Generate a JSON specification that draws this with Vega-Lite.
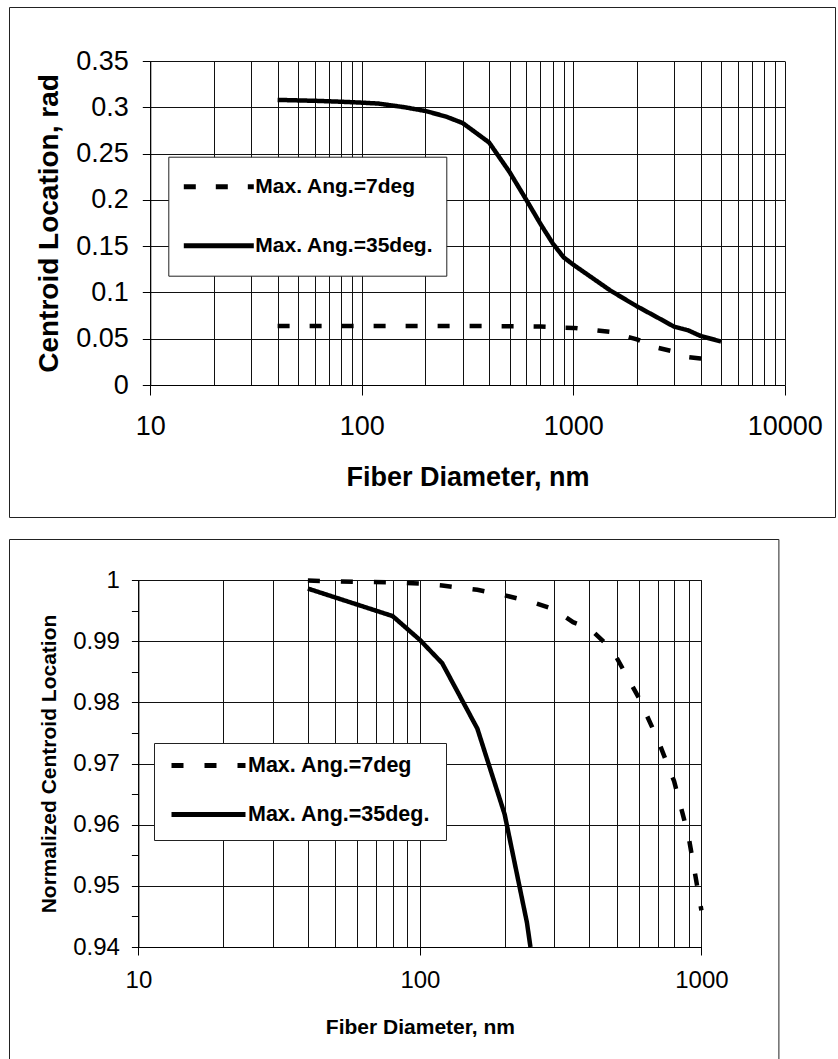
{
  "$schema": "https://vega.github.io/schema/vega-lite/v6.json",
  "padding": {"left": 8, "top": 6, "right": 0, "bottom": 0},
  "autosize": {"type": "pad"},
  "background": "white",
  "spacing": 20,
  "config": {
    "view": {"stroke": "#222", "strokeWidth": 1, "fill": "white"},
    "axis": {"labelFont": "Liberation Sans", "titleFont": "Liberation Sans", "labelColor": "#000", "titleColor": "#000", "domainColor": "#000", "tickColor": "#000", "gridColor": "#111", "gridOpacity": 1, "gridWidth": 1, "labelFlush": false, "labelOverlap": false},
    "legend": {"labelFont": "Liberation Sans", "labelColor": "#000"}
  },
  "datasets": {
    "top": [
      {"series": "Max. Ang.=7deg", "d": 40, "c": 0.0637},
      {"series": "Max. Ang.=7deg", "d": 60, "c": 0.0637},
      {"series": "Max. Ang.=7deg", "d": 80, "c": 0.0637},
      {"series": "Max. Ang.=7deg", "d": 100, "c": 0.0637},
      {"series": "Max. Ang.=7deg", "d": 120, "c": 0.0637},
      {"series": "Max. Ang.=7deg", "d": 160, "c": 0.0637},
      {"series": "Max. Ang.=7deg", "d": 200, "c": 0.0637},
      {"series": "Max. Ang.=7deg", "d": 250, "c": 0.0637},
      {"series": "Max. Ang.=7deg", "d": 300, "c": 0.0637},
      {"series": "Max. Ang.=7deg", "d": 400, "c": 0.0636},
      {"series": "Max. Ang.=7deg", "d": 500, "c": 0.0635},
      {"series": "Max. Ang.=7deg", "d": 600, "c": 0.0634},
      {"series": "Max. Ang.=7deg", "d": 700, "c": 0.0632},
      {"series": "Max. Ang.=7deg", "d": 800, "c": 0.0626},
      {"series": "Max. Ang.=7deg", "d": 900, "c": 0.0620},
      {"series": "Max. Ang.=7deg", "d": 1000, "c": 0.0617},
      {"series": "Max. Ang.=7deg", "d": 1500, "c": 0.0573},
      {"series": "Max. Ang.=7deg", "d": 2000, "c": 0.0493},
      {"series": "Max. Ang.=7deg", "d": 2500, "c": 0.0403},
      {"series": "Max. Ang.=7deg", "d": 3000, "c": 0.0360},
      {"series": "Max. Ang.=7deg", "d": 3500, "c": 0.0302},
      {"series": "Max. Ang.=7deg", "d": 4000, "c": 0.0287},
      {"series": "Max. Ang.=7deg", "d": 5000, "c": 0.0260},
      {"series": "Max. Ang.=35deg.", "d": 40, "c": 0.308},
      {"series": "Max. Ang.=35deg.", "d": 60, "c": 0.307},
      {"series": "Max. Ang.=35deg.", "d": 80, "c": 0.306},
      {"series": "Max. Ang.=35deg.", "d": 100, "c": 0.305},
      {"series": "Max. Ang.=35deg.", "d": 120, "c": 0.304},
      {"series": "Max. Ang.=35deg.", "d": 160, "c": 0.300},
      {"series": "Max. Ang.=35deg.", "d": 200, "c": 0.296},
      {"series": "Max. Ang.=35deg.", "d": 250, "c": 0.290},
      {"series": "Max. Ang.=35deg.", "d": 300, "c": 0.283},
      {"series": "Max. Ang.=35deg.", "d": 400, "c": 0.262},
      {"series": "Max. Ang.=35deg.", "d": 500, "c": 0.230},
      {"series": "Max. Ang.=35deg.", "d": 600, "c": 0.200},
      {"series": "Max. Ang.=35deg.", "d": 700, "c": 0.174},
      {"series": "Max. Ang.=35deg.", "d": 800, "c": 0.153},
      {"series": "Max. Ang.=35deg.", "d": 900, "c": 0.138},
      {"series": "Max. Ang.=35deg.", "d": 1000, "c": 0.130},
      {"series": "Max. Ang.=35deg.", "d": 1500, "c": 0.102},
      {"series": "Max. Ang.=35deg.", "d": 2000, "c": 0.085},
      {"series": "Max. Ang.=35deg.", "d": 2500, "c": 0.073},
      {"series": "Max. Ang.=35deg.", "d": 3000, "c": 0.063},
      {"series": "Max. Ang.=35deg.", "d": 3500, "c": 0.059},
      {"series": "Max. Ang.=35deg.", "d": 4000, "c": 0.053},
      {"series": "Max. Ang.=35deg.", "d": 5000, "c": 0.047}
    ],
    "bottom": [
      {"series": "Max. Ang.=7deg", "d": 40, "c": 0.9999},
      {"series": "Max. Ang.=7deg", "d": 50, "c": 0.9998},
      {"series": "Max. Ang.=7deg", "d": 60, "c": 0.9997},
      {"series": "Max. Ang.=7deg", "d": 80, "c": 0.9996},
      {"series": "Max. Ang.=7deg", "d": 100, "c": 0.9994},
      {"series": "Max. Ang.=7deg", "d": 120, "c": 0.9991},
      {"series": "Max. Ang.=7deg", "d": 160, "c": 0.9984},
      {"series": "Max. Ang.=7deg", "d": 200, "c": 0.9975},
      {"series": "Max. Ang.=7deg", "d": 250, "c": 0.9964},
      {"series": "Max. Ang.=7deg", "d": 300, "c": 0.9952},
      {"series": "Max. Ang.=7deg", "d": 350, "c": 0.9931},
      {"series": "Max. Ang.=7deg", "d": 400, "c": 0.9921},
      {"series": "Max. Ang.=7deg", "d": 450, "c": 0.9899},
      {"series": "Max. Ang.=7deg", "d": 500, "c": 0.9873},
      {"series": "Max. Ang.=7deg", "d": 600, "c": 0.9807},
      {"series": "Max. Ang.=7deg", "d": 700, "c": 0.9739},
      {"series": "Max. Ang.=7deg", "d": 800, "c": 0.9671},
      {"series": "Max. Ang.=7deg", "d": 900, "c": 0.9581},
      {"series": "Max. Ang.=7deg", "d": 1000, "c": 0.9460},
      {"series": "Max. Ang.=35deg.", "d": 40, "c": 0.9986},
      {"series": "Max. Ang.=35deg.", "d": 80, "c": 0.9941},
      {"series": "Max. Ang.=35deg.", "d": 100, "c": 0.9902},
      {"series": "Max. Ang.=35deg.", "d": 120, "c": 0.9864},
      {"series": "Max. Ang.=35deg.", "d": 160, "c": 0.9757},
      {"series": "Max. Ang.=35deg.", "d": 200, "c": 0.9617},
      {"series": "Max. Ang.=35deg.", "d": 240, "c": 0.9440},
      {"series": "Max. Ang.=35deg.", "d": 247, "c": 0.9400}
    ]
  },
  "resolve": {"scale": {"strokeDash": "independent"}},
  "vconcat": [
    {
      "width": 826,
      "height": 510,
      "data": {"name": "top"},
      "resolve": {"axis": {"x": "independent"}},
      "layer": [
        {
          "transform": [{"filter": "datum.series == 'Max. Ang.=7deg'"}],
          "mark": {"type": "line", "color": "black", "strokeWidth": 4.5, "strokeCap": "butt"},
          "encoding": {
            "x": {"field": "d", "type": "quantitative", "scale": {"type": "log", "domain": [10, 10000], "range": [141.3, 775.7], "nice": false},
              "axis": {"orient": "top", "values": [10,20,30,40,50,60,70,80,90,100,200,300,400,500,600,700,800,900,1000,2000,3000,4000,5000,6000,7000,8000,9000,10000], "grid": true, "domain": false, "ticks": false, "labels": false, "title": null}},
            "y": {"field": "c", "type": "quantitative", "scale": {"domain": [0, 0.35], "range": [378, 54], "nice": false, "zero": false},
              "axis": {"orient": "left", "offset": -141.3, "values": [0,0.05,0.1,0.15,0.2,0.25,0.3,0.35], "grid": true, "domain": true, "domainWidth": 1, "ticks": true, "tickSize": 8, "labelFontSize": 27, "labelPadding": 14, "labelExpr": "format(datum.value, '~g')", "title": "Centroid Location, rad", "titleFontSize": 28, "titleFontWeight": "bold", "titlePadding": 12}},
            "strokeDash": {"field": "series", "type": "nominal", "scale": {"domain": ["Max. Ang.=7deg", "Max. Ang.=35deg."], "range": [[12, 20], [1, 0]]},
              "legend": {"orient": "none", "legendX": 159.3, "legendY": 149.7, "title": null, "symbolType": "stroke", "symbolSize": 4900, "symbolStrokeWidth": 5, "symbolStrokeColor": "black", "labelFontSize": 21, "labelFontWeight": "bold", "labelOffset": -1, "labelLimit": 400, "fillColor": "white", "strokeColor": "#222", "padding": 13, "clipHeight": 34, "rowPadding": 25}}
          }
        },
        {
          "transform": [{"filter": "datum.series == 'Max. Ang.=35deg.'"}],
          "mark": {"type": "line", "color": "black", "strokeWidth": 4.5, "strokeCap": "butt"},
          "encoding": {
            "x": {"field": "d", "type": "quantitative", "scale": {"type": "log", "domain": [10, 10000], "range": [141.3, 775.7], "nice": false},
              "axis": {"orient": "bottom", "offset": -132, "values": [10,100,1000,10000], "grid": false, "domain": true, "domainWidth": 1, "ticks": true, "tickSize": 10, "labelFontSize": 27, "labelPadding": 18, "labelExpr": "format(datum.value, 'd')", "title": "Fiber Diameter, nm", "titleFontSize": 27, "titleFontWeight": "bold", "titlePadding": 25}},
            "y": {"field": "c", "type": "quantitative", "scale": {"domain": [0, 0.35], "range": [378, 54], "nice": false, "zero": false},
              "axis": {"orient": "left", "offset": -141.3, "values": [0,0.05,0.1,0.15,0.2,0.25,0.3,0.35], "grid": true, "domain": true, "domainWidth": 1, "ticks": true, "tickSize": 8, "labelFontSize": 27, "labelPadding": 14, "labelExpr": "format(datum.value, '~g')", "title": "Centroid Location, rad", "titleFontSize": 28, "titleFontWeight": "bold", "titlePadding": 12}},
            "strokeDash": {"field": "series", "type": "nominal", "scale": {"domain": ["Max. Ang.=7deg", "Max. Ang.=35deg."], "range": [[12, 20], [1, 0]]},
              "legend": {"orient": "none", "legendX": 159.3, "legendY": 149.7, "title": null, "symbolType": "stroke", "symbolSize": 4900, "symbolStrokeWidth": 5, "symbolStrokeColor": "black", "labelFontSize": 21, "labelFontWeight": "bold", "labelOffset": -1, "labelLimit": 400, "fillColor": "white", "strokeColor": "#222", "padding": 13, "clipHeight": 34, "rowPadding": 25}}
          }
        }
      ]
    },
    {
      "width": 769.4,
      "height": 530,
      "data": {"name": "bottom"},
      "resolve": {"axis": {"x": "independent"}},
      "layer": [
        {
          "transform": [{"filter": "datum.series == 'Max. Ang.=7deg'"}],
          "mark": {"type": "line", "color": "black", "strokeWidth": 4.5, "strokeCap": "butt"},
          "encoding": {
            "x": {"field": "d", "type": "quantitative", "scale": {"type": "log", "domain": [10, 1000], "range": [129.4, 692.4], "nice": false},
              "axis": {"orient": "top", "values": [10,20,30,40,50,60,70,80,90,100,200,300,400,500,600,700,800,900,1000], "grid": true, "domain": false, "ticks": false, "labels": false, "title": null}},
            "y": {"field": "c", "type": "quantitative", "scale": {"domain": [0.94, 1], "range": [408, 41], "nice": false, "zero": false},
              "axis": {"orient": "left", "offset": -129.4, "values": [0.94,0.945,0.95,0.955,0.96,0.965,0.97,0.975,0.98,0.985,0.99,0.995,1], "grid": true, "gridOpacity": {"condition": {"test": "round(datum.value*1000) % 10 == 0", "value": 1}, "value": 0}, "domain": true, "domainWidth": 1, "ticks": true, "tickSize": 7, "labelFontSize": 24, "labelPadding": 12, "labelExpr": "round(datum.value*1000) % 10 == 0 ? format(datum.value, '~g') : ''", "title": "Normalized Centroid Location", "titleFontSize": 21, "titleFontWeight": "bold", "titlePadding": 13}},
            "strokeDash": {"field": "series", "type": "nominal", "scale": {"domain": ["Max. Ang.=7deg", "Max. Ang.=35deg."], "range": [[12, 21], [1, 0]]},
              "legend": {"orient": "none", "legendX": 145, "legendY": 204, "title": null, "symbolType": "stroke", "symbolSize": 5476, "symbolStrokeWidth": 5, "symbolStrokeColor": "black", "labelFontSize": 21.5, "labelFontWeight": "bold", "labelOffset": 0, "labelLimit": 400, "fillColor": "white", "strokeColor": "#222", "padding": 15, "clipHeight": 15, "rowPadding": 27}}
          }
        },
        {
          "transform": [{"filter": "datum.series == 'Max. Ang.=35deg.'"}],
          "mark": {"type": "line", "color": "black", "strokeWidth": 4.5, "strokeCap": "butt"},
          "encoding": {
            "x": {"field": "d", "type": "quantitative", "scale": {"type": "log", "domain": [10, 1000], "range": [129.4, 692.4], "nice": false},
              "axis": {"orient": "bottom", "offset": -122, "values": [10,100,1000], "grid": false, "domain": true, "domainWidth": 1, "ticks": true, "tickSize": 8, "labelFontSize": 24, "labelPadding": 13, "labelExpr": "format(datum.value, 'd')", "title": "Fiber Diameter, nm", "titleFontSize": 21, "titleFontWeight": "bold", "titlePadding": 24}},
            "y": {"field": "c", "type": "quantitative", "scale": {"domain": [0.94, 1], "range": [408, 41], "nice": false, "zero": false},
              "axis": {"orient": "left", "offset": -129.4, "values": [0.94,0.945,0.95,0.955,0.96,0.965,0.97,0.975,0.98,0.985,0.99,0.995,1], "grid": true, "gridOpacity": {"condition": {"test": "round(datum.value*1000) % 10 == 0", "value": 1}, "value": 0}, "domain": true, "domainWidth": 1, "ticks": true, "tickSize": 7, "labelFontSize": 24, "labelPadding": 12, "labelExpr": "round(datum.value*1000) % 10 == 0 ? format(datum.value, '~g') : ''", "title": "Normalized Centroid Location", "titleFontSize": 21, "titleFontWeight": "bold", "titlePadding": 13}},
            "strokeDash": {"field": "series", "type": "nominal", "scale": {"domain": ["Max. Ang.=7deg", "Max. Ang.=35deg."], "range": [[12, 21], [1, 0]]},
              "legend": {"orient": "none", "legendX": 145, "legendY": 204, "title": null, "symbolType": "stroke", "symbolSize": 5476, "symbolStrokeWidth": 5, "symbolStrokeColor": "black", "labelFontSize": 21.5, "labelFontWeight": "bold", "labelOffset": 0, "labelLimit": 400, "fillColor": "white", "strokeColor": "#222", "padding": 15, "clipHeight": 15, "rowPadding": 27}}
          }
        }
      ]
    }
  ]
}
